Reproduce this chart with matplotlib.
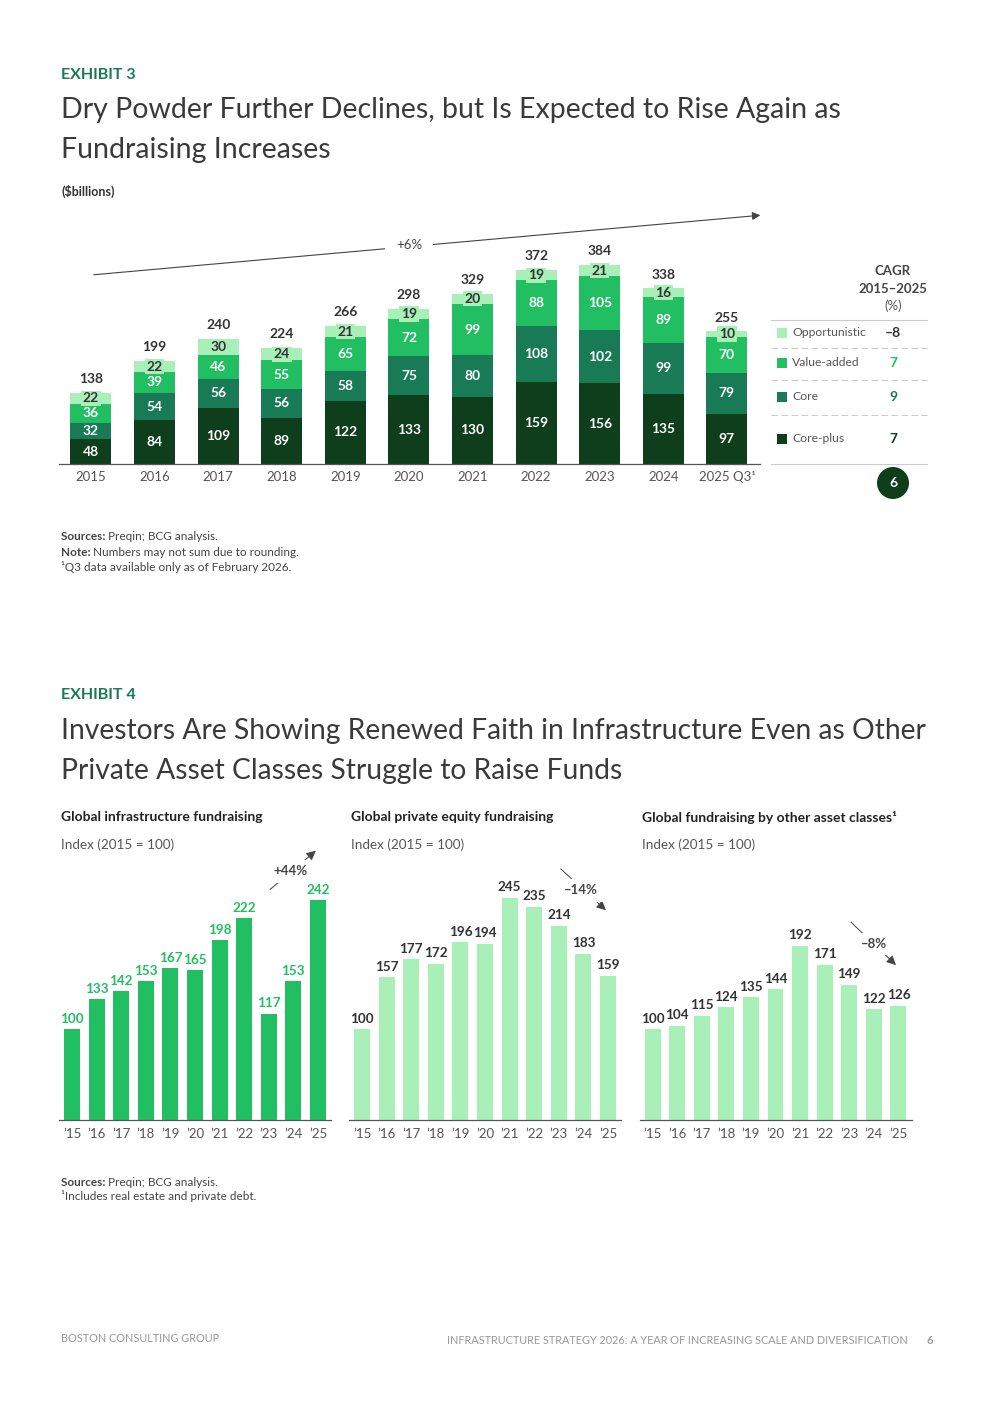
import numpy as np
import matplotlib
matplotlib.use('Agg')
import matplotlib.pyplot as plt
from matplotlib.patches import Circle, Rectangle

# %% Datos exhibit 3 (dry powder, $bn)
years = ['2015', '2016', '2017', '2018', '2019', '2020', '2021', '2022', '2023', '2024', '2025 Q3¹']
core_plus = [48, 84, 109, 89, 122, 133, 130, 159, 156, 135, 97]
core = [32, 54, 56, 56, 58, 75, 80, 108, 102, 99, 79]
value_added = [36, 39, 46, 55, 65, 72, 99, 88, 105, 89, 70]
opportunistic = [22, 22, 30, 24, 21, 19, 20, 19, 21, 16, 10]
totals = [138, 199, 240, 224, 266, 298, 329, 372, 384, 338, 255]

legend_labels = ['Opportunistic', 'Value-added', 'Core', 'Core-plus']
cagr_values = ['–8', '7', '9', '7']
cagr_total = '6'

# %% Datos exhibit 4 (index 2015 = 100)
ticks4 = ['’15', '’16', '’17', '’18', '’19', '’20', '’21', '’22', '’23', '’24', '’25']
infra = [100, 133, 142, 153, 167, 165, 198, 222, 117, 153, 242]
pe = [100, 157, 177, 172, 196, 194, 245, 235, 214, 183, 159]
other = [100, 104, 115, 124, 135, 144, 192, 171, 149, 122, 126]

# colores
c_cp = '#0e3e1b'
c_core = '#197a56'
c_va = '#21bf61'
c_opp = '#a8f0b8'
c_txt = '#333333'
c_title = '#3a3a3a'

plt.rcParams['font.family'] = ['Lato', 'DejaVu Sans']

W, H = 992, 1403
fig = plt.figure(figsize=(W / 100, H / 100), dpi=100)
bg = fig.add_axes([0, 0, 1, 1])
bg.set_xlim(0, W)
bg.set_ylim(H, 0)
bg.axis('off')


def ax_px(l, t, r, b):
    return fig.add_axes([l / W, 1 - b / H, (r - l) / W, (b - t) / H])


def rich(x, y, parts, size=8.5, color='#444444'):
    r = fig.canvas.get_renderer()
    for txt, w in parts:
        t = bg.text(x, y, txt, fontsize=size, fontweight=w, color=color, va='center', ha='left')
        x += t.get_window_extent(renderer=r).width


# %% Exhibit 3 encabezado
bg.text(61, 75, 'EXHIBIT 3', fontsize=11.5, fontweight='bold', color=c_core, va='center')
bg.text(61, 110, 'Dry Powder Further Declines, but Is Expected to Rise Again as',
        fontsize=20.5, color=c_title, va='center')
bg.text(61, 150, 'Fundraising Increases', fontsize=20.5, color=c_title, va='center')
bg.text(61, 191, '($billions)', fontsize=9, fontweight='bold', color=c_txt, va='center')

# %% Exhibit 3 barras apiladas
ax = ax_px(59, 200, 760, 464)
x = np.arange(len(years))
bottom = np.zeros(len(years))
stack = [(core_plus, c_cp, 'white'), (core, c_core, 'white'),
         (value_added, c_va, 'white'), (opportunistic, c_opp, c_txt)]
for vals, col, tcol in stack:
    vals = np.array(vals)
    ax.bar(x, vals, 0.645, bottom=bottom, color=col, linewidth=0)
    for i in range(len(x)):
        kw = {}
        if col == c_opp:
            kw['bbox'] = dict(boxstyle='square,pad=0.12', fc=c_opp, ec='none')
        ax.text(x[i], bottom[i] + vals[i] / 2, str(vals[i]), ha='center', va='center',
                color=tcol, fontsize=10, fontweight='bold', **kw)
    bottom = bottom + vals
for i in range(len(x)):
    ax.annotate(str(totals[i]), (x[i], bottom[i]), xytext=(0, 10), textcoords='offset points',
                ha='center', va='center', fontsize=10, fontweight='bold', color=c_txt)

ax.set_xlim(-0.503, 10.52)
ax.set_ylim(0, 509.7)
ax.set_xticks(x)
ax.set_xticklabels(years)
ax.tick_params(axis='x', length=0, pad=5, labelsize=9.5, labelcolor='#555555')
ax.set_yticks([])
for s in ['top', 'right', 'left']:
    ax.spines[s].set_visible(False)
ax.spines['bottom'].set_color('#555555')
ax.spines['bottom'].set_linewidth(0.9)
ax.patch.set_alpha(0)

# flecha CAGR
ax.annotate('', xy=(10.57, 480.7), xytext=(0, 364.9),
            arrowprops=dict(arrowstyle='-|>', color='#444444', lw=0.8, mutation_scale=12),
            annotation_clip=False)
ax.text(5.0, 422, '+6%', ha='center', va='center', fontsize=9.5, color='#444444',
        bbox=dict(boxstyle='square,pad=0.8', fc='white', ec='none'))

# %% tabla CAGR
bg.text(893, 271, 'CAGR', ha='center', va='center', fontsize=9.5, fontweight='bold', color='#444444')
bg.text(893, 289, '2015–2025', ha='center', va='center', fontsize=9.5, fontweight='bold', color='#444444')
bg.text(893, 306, '(%)', ha='center', va='center', fontsize=9.5, color='#555555')
bg.plot([771, 927], [320, 320], color='#cccccc', lw=0.8)
for yy in [348, 380, 415]:
    bg.plot([771, 927], [yy, yy], color='#cccccc', lw=0.8, ls=(0, (6, 3)))
bg.plot([771, 927], [464, 464], color='#cccccc', lw=0.8)
row_y = [333, 363, 397, 439]
row_c = [c_opp, c_va, c_core, c_cp]
val_c = [c_txt, c_va, c_core, c_cp]
for yy, lab, col, v, vc in zip(row_y, legend_labels, row_c, cagr_values, val_c):
    bg.add_patch(Rectangle((777, yy - 5), 10, 10, fc=col, ec='none'))
    bg.text(792, yy, lab, va='center', ha='left', fontsize=8.7, color='#555555')
    bg.text(893, yy, v, va='center', ha='center', fontsize=10, fontweight='bold', color=vc)
bg.add_patch(Circle((893, 483), 16, fc=c_cp, ec='none'))
bg.text(893, 483, cagr_total, ha='center', va='center', fontsize=10, fontweight='bold', color='white')

# notas
rich(61, 537, [('Sources: ', 'bold'), ('Preqin; BCG analysis.', 'normal')])
rich(61, 552, [('Note: ', 'bold'), ('Numbers may not sum due to rounding.', 'normal')])
rich(61, 567, [('¹Q3 data available only as of February 2026.', 'normal')])

# %% Exhibit 4 encabezado
bg.text(61, 695, 'EXHIBIT 4', fontsize=11.5, fontweight='bold', color=c_core, va='center')
bg.text(61, 731, 'Investors Are Showing Renewed Faith in Infrastructure Even as Other',
        fontsize=20.3, color=c_title, va='center')
bg.text(61, 771, 'Private Asset Classes Struggle to Raise Funds',
        fontsize=20.3, color=c_title, va='center')

# %% Exhibit 4 paneles
panels = [
    (59, 'Global infrastructure fundraising', infra, c_va, c_va,
     (7.97, 252), (10.0, 298.5), (8.9, 274), '+44%'),
    (349, 'Global private equity fundraising', pe, c_opp, c_txt,
     (8.0, 278.6), (10.0, 229), (8.9, 253), '–14%'),
    (639.5, 'Global fundraising by other asset classes¹', other, c_opp, c_txt,
     (7.99, 220), (9.98, 168.5), (9.0, 194), '–8%'),
]
for left, title, vals, col, lcol, a0, a1, at, atxt in panels:
    bg.text(left + 2, 817, title, fontsize=10, fontweight='bold', color='#222222', va='center')
    bg.text(left + 2, 845, 'Index (2015 = 100)', fontsize=9.7, color='#555555', va='center')
    axp = ax_px(left, 840, left + 272, 1120)
    xx = np.arange(len(vals))
    axp.bar(xx, vals, 0.65, color=col, linewidth=0)
    for i, v in enumerate(vals):
        axp.annotate(str(v), (xx[i], v), xytext=(0, 7.5), textcoords='offset points',
                     ha='center', va='center', fontsize=9.7, fontweight='bold', color=lcol)
    axp.set_xlim(-0.53, 10.53)
    axp.set_ylim(0, 308.4)
    axp.set_xticks(xx)
    axp.set_xticklabels(ticks4)
    axp.tick_params(axis='x', length=0, pad=6, labelsize=9.5, labelcolor='#555555')
    axp.set_yticks([])
    for s in ['top', 'right', 'left']:
        axp.spines[s].set_visible(False)
    axp.spines['bottom'].set_color('#555555')
    axp.spines['bottom'].set_linewidth(0.9)
    axp.patch.set_alpha(0)
    axp.annotate('', xy=a1, xytext=a0,
                 arrowprops=dict(arrowstyle='-|>', color='#444444', lw=0.7, mutation_scale=14),
                 annotation_clip=False)
    axp.text(at[0], at[1], atxt, ha='center', va='center', fontsize=9.5, fontweight='bold',
             color='#444444', bbox=dict(boxstyle='square,pad=0.4', fc='white', ec='none'))

rich(61, 1182, [('Sources: ', 'bold'), ('Preqin; BCG analysis.', 'normal')])
rich(61, 1196, [('¹Includes real estate and private debt.', 'normal')])

# %% pie de pagina
bg.text(61, 1339, 'BOSTON CONSULTING GROUP', fontsize=7.8, color='#999999', va='center')
bg.text(908, 1341, 'INFRASTRUCTURE STRATEGY 2026: A YEAR OF INCREASING SCALE AND DIVERSIFICATION',
        fontsize=7.8, color='#999999', va='center', ha='right')
bg.text(930, 1341, '6', fontsize=8, fontweight='bold', color='#999999', va='center', ha='center')

fig.savefig('out.png', dpi=100)
